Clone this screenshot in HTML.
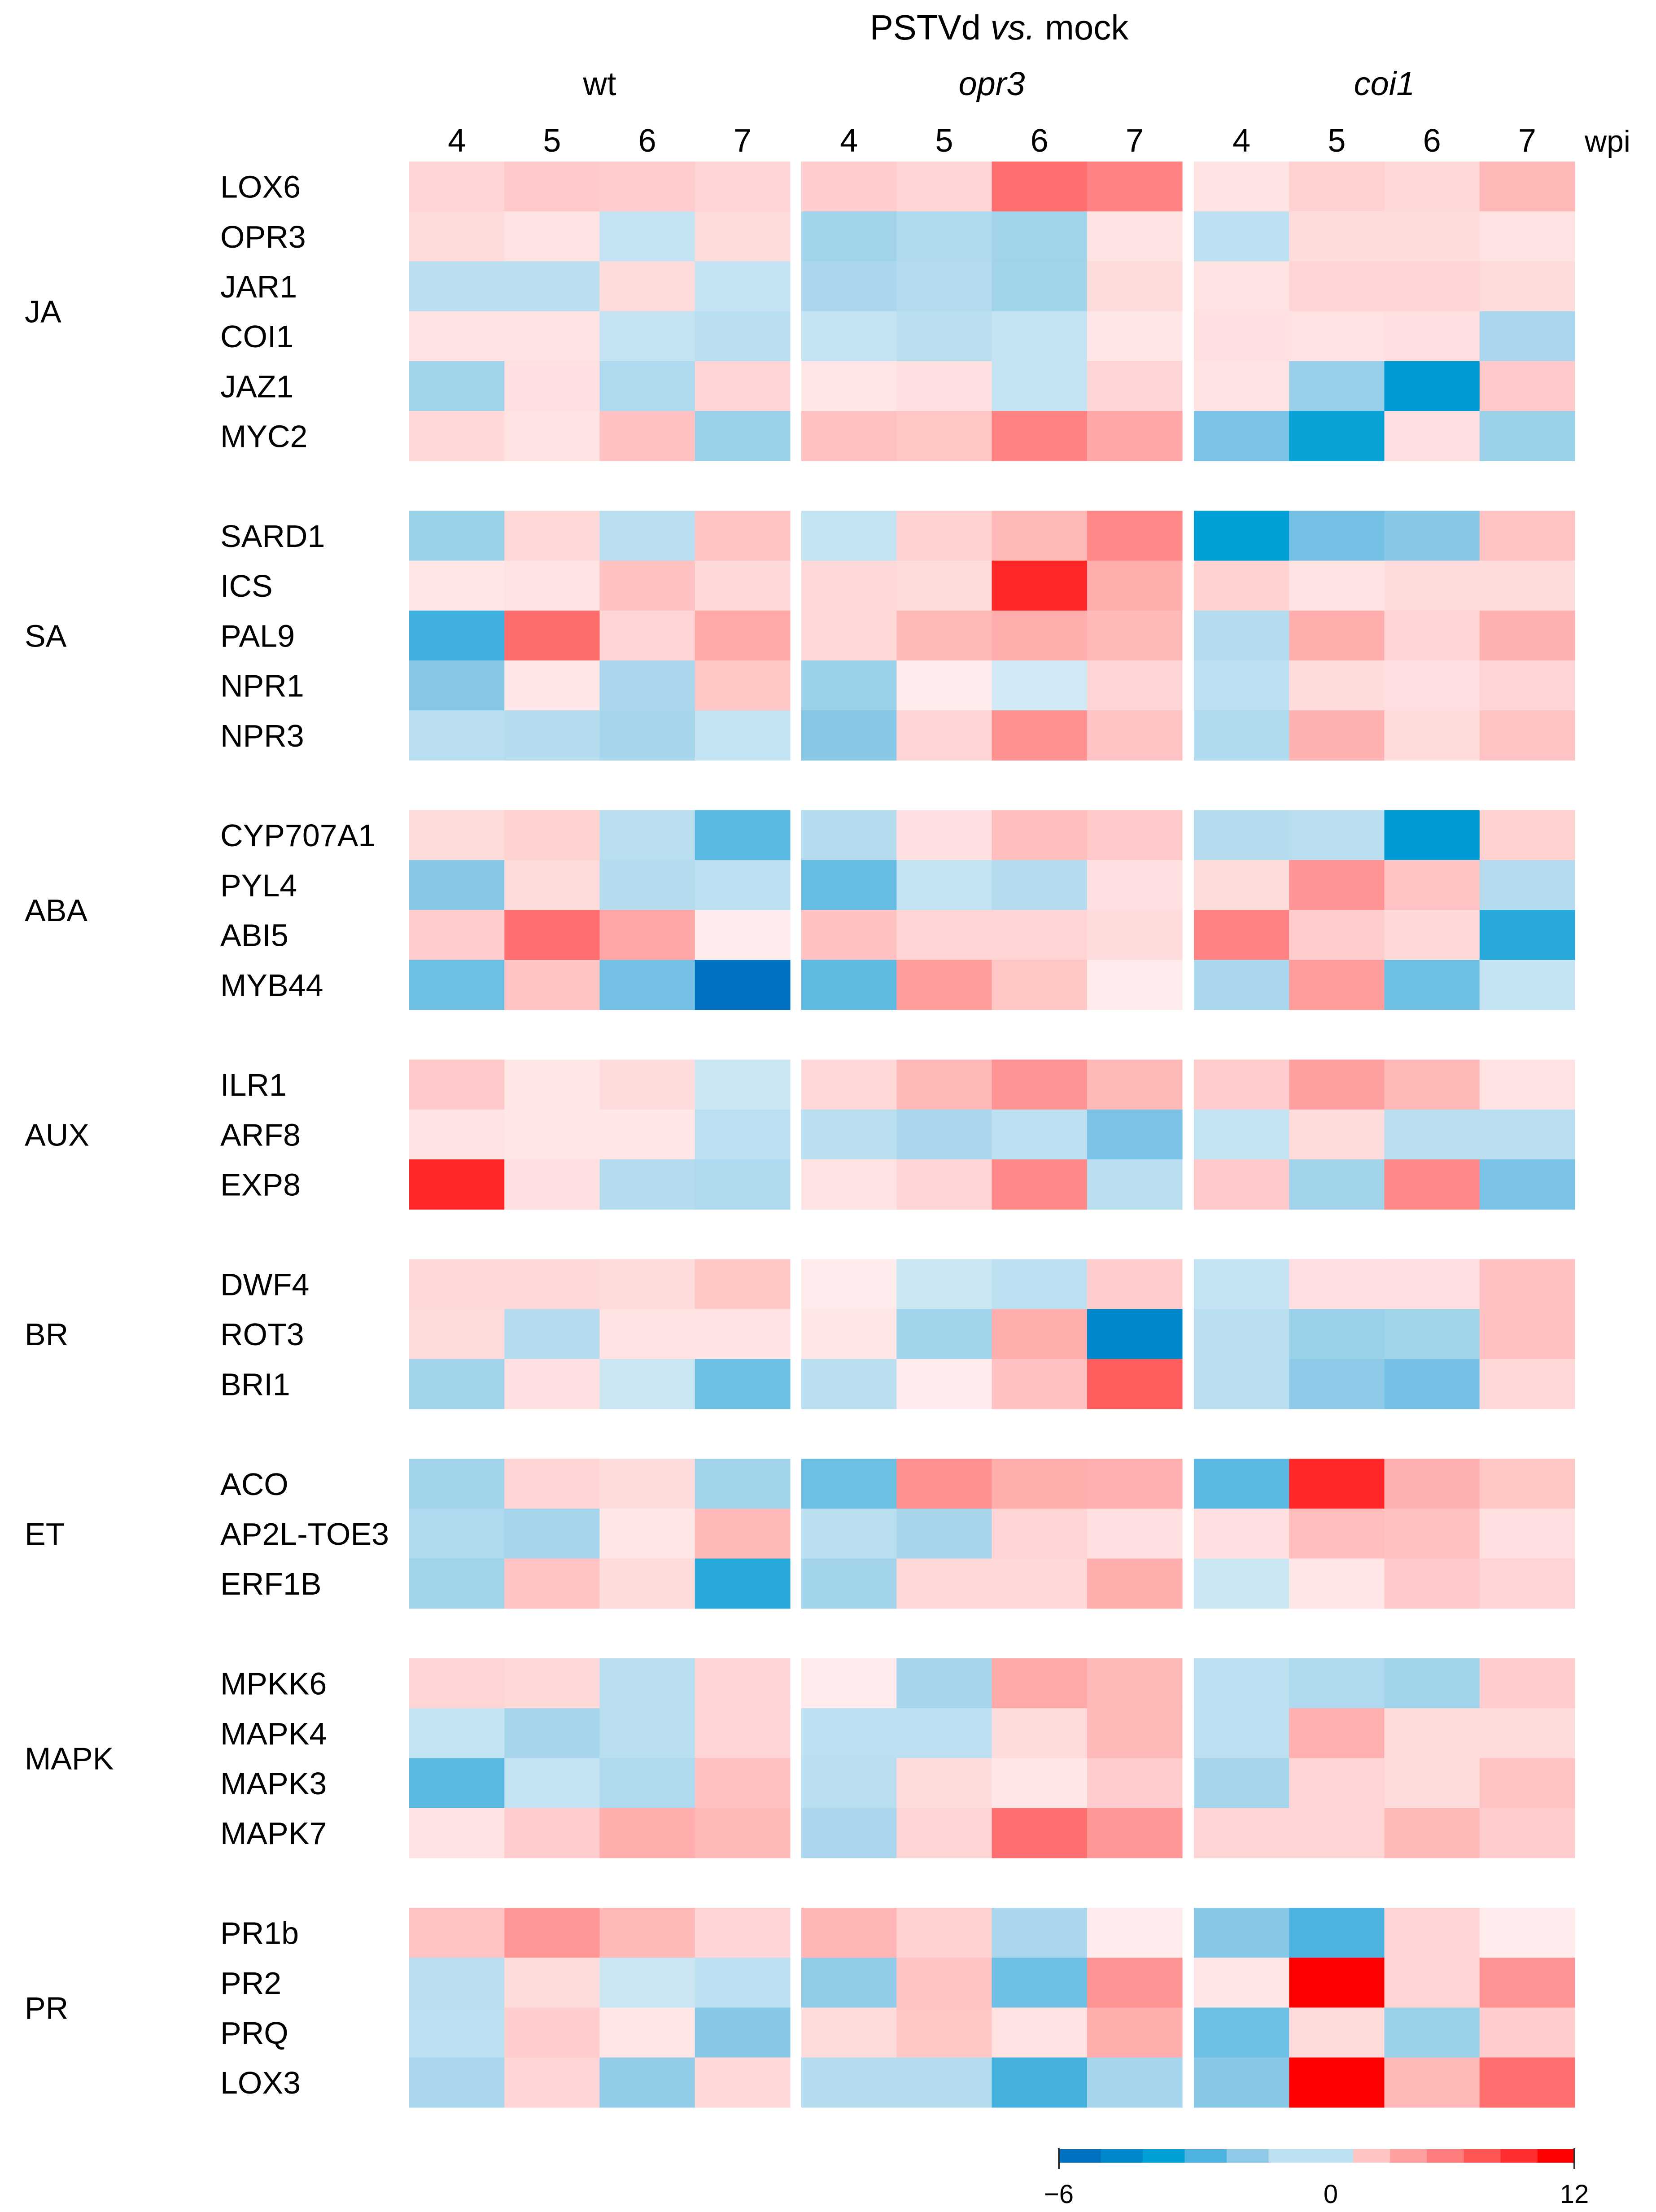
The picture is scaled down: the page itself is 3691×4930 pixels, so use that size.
<!DOCTYPE html>
<html><head><meta charset="utf-8">
<style>
html,body{margin:0;padding:0;background:#fff;}
svg{display:block;}
text{font-family:"Liberation Sans",sans-serif;fill:#000;}
</style></head>
<body>
<svg id="chart" width="3691" height="4930" viewBox="0 0 3691 4930" xmlns="http://www.w3.org/2000/svg">
<rect width="3691" height="4930" fill="#fff"/>
<text x="2227" y="88" font-size="78" text-anchor="middle">PSTVd <tspan font-style="italic">vs.</tspan> mock</text>
<g id="hdr"></g>
<g id="cells"></g>
<g id="labels"></g>
<g id="legend"></g>
</svg>
<script>
const genotypes = ["wt","opr3","coi1"];
const timepoints = ["4","5","6","7"];
const groups = ["JA","SA","ABA","AUX","BR","ET","MAPK","PR"];
const groupGenes = [
 ["LOX6","OPR3","JAR1","COI1","JAZ1","MYC2"],
 ["SARD1","ICS","PAL9","NPR1","NPR3"],
 ["CYP707A1","PYL4","ABI5","MYB44"],
 ["ILR1","ARF8","EXP8"],
 ["DWF4","ROT3","BRI1"],
 ["ACO","AP2L-TOE3","ERF1B"],
 ["MPKK6","MAPK4","MAPK3","MAPK7"],
 ["PR1b","PR2","PRQ","LOX3"]
];
const values = [
 [1,1.3,1.2,1, 1.2,1,6,5, 0.6,1.1,0.9,2],
 [0.8,0.6,-0.9,0.8, -1.6,-1.3,-1.6,0.6, -1,0.8,0.8,0.6],
 [-1.1,-1.1,0.8,-0.9, -1.4,-1.2,-1.6,0.8, 0.6,1,1,0.8],
 [0.6,0.6,-0.9,-1.1, -0.9,-1.1,-0.9,0.5, 0.7,0.6,0.7,-1.4],
 [-1.6,0.7,-1.3,1, 0.5,0.7,-0.9,1, 0.6,-1.8,-4.2,1.3],
 [0.9,0.6,1.6,-1.7, 1.6,1.4,5,3, -2.3,-3.9,0.7,-1.7],
 [-1.7,0.9,-1.1,1.5, -0.9,1.1,2,4.6, -4.0,-2.4,-2.1,1.5],
 [0.5,0.6,1.6,0.9, 0.9,0.8,10,2.6, 1.1,0.6,0.8,0.8],
 [-3.2,6.2,1,2.8, 0.9,2,2.6,2, -1.2,2.6,1,2.4],
 [-2.1,0.5,-1.4,1.4, -1.7,0.4,-0.7,1, -1,0.8,0.7,1],
 [-1.1,-1.2,-1.5,-0.9, -2.1,1,4.2,1.5, -1.3,2.4,0.8,1.5],
 [0.8,1.1,-1.1,-2.8, -1.2,0.7,1.8,1.3, -1.2,-1.1,-4.2,1.1],
 [-2.1,0.8,-1.2,-1.0, -2.6,-0.9,-1.2,0.7, 0.8,4,1.5,-1.2],
 [1.2,6,3,0.4, 1.6,1,1,0.8, 5,1.2,0.9,-3.5],
 [-2.5,1.5,-2.4,-6, -2.7,3.5,1.4,0.4, -1.4,3.5,-2.5,-0.9],
 [1.3,0.5,0.8,-0.8, 0.9,2,4,2, 1.2,3.3,2,0.6],
 [0.6,0.5,0.5,-1.0, -1.1,-1.4,-1,-2.3, -0.9,0.8,-1.1,-1.1],
 [10,0.7,-1.2,-1.3, 0.6,1,4.6,-1.1, 1.3,-1.6,4.6,-2.3],
 [0.9,0.9,0.8,1.4, 0.4,-0.8,-1,1.2, -0.9,0.7,0.7,1.6],
 [0.8,-1.2,0.6,0.6, 0.5,-1.6,2.6,-5, -1.1,-1.7,-1.6,1.6],
 [-1.6,0.7,-0.8,-2.5, -1.1,0.4,1.6,7, -1.1,-2,-2.4,0.9],
 [-1.6,1,0.8,-1.6, -2.5,4.2,2.6,2.5, -2.8,10,2.4,1.4],
 [-1.3,-1.5,0.5,2, -1.1,-1.5,1,0.7, 0.7,1.8,1.6,0.7],
 [-1.6,1.5,0.8,-3.5, -1.6,0.9,0.9,2.6, -0.8,0.5,1.3,1],
 [1,0.9,-1.1,1, 0.4,-1.5,2.8,2, -1,-1.3,-1.6,1.2],
 [-0.9,-1.5,-1.1,1, -1,-1,0.8,2, -1,2.5,0.8,0.8],
 [-2.8,-0.9,-1.3,1.6, -1.1,0.8,0.5,1.2, -1.5,1,0.8,1.5],
 [0.6,1.2,2.6,2, -1.4,1,6,3.8, 1,1,2,1.2],
 [1.5,3.8,2,1, 2.2,1.1,-1.4,0.4, -2.1,-3,1,0.4],
 [-1.1,0.8,-0.8,-1.0, -1.9,1.5,-2.5,4, 0.5,12,1,4],
 [-1.0,1.2,0.5,-2.1, 0.8,1.4,0.6,2.6, -2.5,0.8,-1.7,1.2],
 [-1.4,1,-1.9,0.9, -1.2,-1.2,-3.1,-1.5, -2.1,12,2,6]
];
const legendTicks = ["\u22126","0","12"];
const legendTickValues = [-6,0,12];

const NS="http://www.w3.org/2000/svg";
const blockX=[912,1786,2661], colW=212.25, y0=360, rowH=111.2;
const blueStops=["#ffffff","#bde0f0","#8ecae8","#4db3e0","#00a0d6","#0088cc","#0070c0"];
const redStops=["#ffffff","#ffc4c4","#ffa0a0","#ff7c7c","#ff5555","#ff2d2d","#ff0000"];
function hex(c){return [1,3,5].map(i=>parseInt(c.substr(i,2),16));}
function lerp(a,b,t){const A=hex(a),B=hex(b);return "rgb("+A.map((v,i)=>Math.round(v+(B[i]-v)*t)).join(",")+")";}
function color(v){
  let stops,u;
  if(v<0){stops=blueStops;u=Math.min(-v,6);} else {stops=redStops;u=Math.pow(Math.min(v,12)/12,0.85)*6;}
  const i=Math.min(Math.floor(u),5);return lerp(stops[i],stops[i+1],u-i);
}
function xPos(g,c){return blockX[g]+c*colW;}
function mk(tag,attrs,parent){const e=document.createElementNS(NS,tag);for(const k in attrs)e.setAttribute(k,attrs[k]);parent.appendChild(e);return e;}

const hdr=document.getElementById("hdr");
genotypes.forEach((gt,g)=>{
  const t=mk("text",{x:xPos(g,2),y:212,"font-size":74,"text-anchor":"middle","font-style":g>0?"italic":"normal"},hdr);
  
  
  t.textContent=gt;
  timepoints.forEach((tp,c)=>{
    const n=mk("text",{x:xPos(g,c)+colW/2,y:338,"font-size":72,"text-anchor":"middle"},hdr);
    
    
    n.textContent=tp;
  });
});
const wpi=mk("text",{x:3532,y:338,"font-size":68},hdr);


wpi.textContent="wpi";

const cells=document.getElementById("cells"), labels=document.getElementById("labels");
let rowSlot=0, r=0;
groups.forEach((grp,gi)=>{
  const startSlot=rowSlot;
  groupGenes[gi].forEach(gene=>{
    const y=y0+rowSlot*rowH;
    const gl=mk("text",{x:491,y:y+rowH/2+25,"font-size":70},labels);
    
    
    gl.textContent=gene;
    for(let g=0;g<3;g++)for(let c=0;c<4;c++){
      const v=values[r][g*4+c];
      const rc=mk("rect",{x:xPos(g,c),y:y,width:colW+0.6,height:rowH+0.6,fill:color(v)},cells);
      
      
    }
    rowSlot++; r++;
  });
  const cy=y0+(startSlot+rowSlot)/2*rowH;
  const cl=mk("text",{x:55,y:cy+25,"font-size":70},labels);
  
  
  cl.textContent=grp;
  rowSlot++;
});

const lg=document.getElementById("legend");
const lx0=2360, lxZero=2966, lx1=3509, ly=4790, lh=30;
function lscale(v){return v<0? lx0+(v+6)/6*(2921-lx0) : 3016+v/12*(lx1-3016);}
for(let i=0;i<6;i++){
  const b=mk("rect",{x:lscale(-6+i),y:ly,width:lscale(-5+i)-lscale(-6+i)+0.5,height:lh,fill:blueStops[6-i]},lg);
  
  
}
const redEdges=[0,2,4,6,8,10,11.3,12];
for(let i=0;i<7;i++){
  const b=mk("rect",{x:lscale(redEdges[i]),y:ly,width:lscale(redEdges[i+1])-lscale(redEdges[i])+0.5,height:lh,fill:redStops[Math.min(i+1,6)]},lg);
  
  
}
legendTickValues.forEach((v,i)=>{
  const x= v===0? lxZero : lscale(v);
  if(v!==0){
    const tk=mk("line",{x1:x,x2:x,y1:ly-2,y2:ly+44,stroke:"#333","stroke-width":4},lg);
    
    
  }
  const t=mk("text",{x:x,y:4910,"font-size":58,"text-anchor":"middle"},lg);
  
  
  t.textContent=legendTicks[i];
});
</script>
</body></html>
